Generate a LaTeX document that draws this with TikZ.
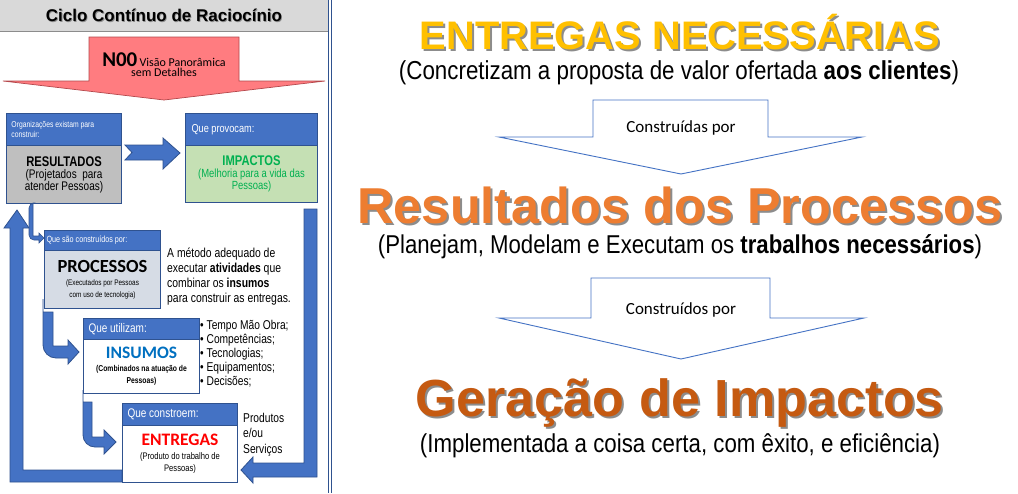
\documentclass[tikz,border=0pt]{standalone}
\usepackage{fontspec}
\setmainfont{Liberation Sans}
\newfontfamily\nar[FakeStretch=0.8]{Liberation Sans}
\newfontfamily\snar[FakeStretch=0.86]{Liberation Sans}
\newfontfamily\calf{Carlito}
\usetikzlibrary{calc}
\definecolor{hblue}{HTML}{4472C4}
\definecolor{bblue}{HTML}{2F528F}
\definecolor{tgray}{HTML}{D9D9D9}
\definecolor{rgray}{HTML}{BFBFBF}
\definecolor{igreen}{HTML}{C5E0B4}
\definecolor{tgreen}{HTML}{00B050}
\definecolor{pgray}{HTML}{D6DCE5}
\definecolor{iblue}{HTML}{0070C0}
\definecolor{ered}{HTML}{FF0000}
\definecolor{nred}{HTML}{FF7C80}
\definecolor{nredb}{HTML}{B4484C}
\definecolor{gold}{HTML}{FFC000}
\definecolor{orng}{HTML}{ED7D31}
\definecolor{dorng}{HTML}{C55A11}
\definecolor{shad}{HTML}{8C8C8C}
\newcommand\fs[2]{\fontsize{#1}{#2}\selectfont}
\tikzset{
  hdr/.style={draw=bblue, fill=hblue, line width=1pt, text=white, anchor=north west, inner xsep=5pt, inner ysep=0pt, align=flush left},
  bodybox/.style={draw=bblue, line width=1pt, anchor=north west, inner sep=0pt, align=center},
  blk/.style={draw=bblue, fill=hblue, line width=0.8pt},
  outarrow/.style={draw=hblue, line width=0.9pt, fill=white},
  plain/.style={inner sep=0pt},
}
\begin{document}
\begin{tikzpicture}[x=1pt,y=-1pt]
\useasboundingbox (0,0) rectangle (1018,493);
\fill[white] (0,0) rectangle (1018,493);
% title bar
\node[plain, fill=tgray, minimum width=328pt, minimum height=31pt, anchor=north west] (tbar) at (0,0) {};
\draw[shad, line width=0.8pt] (tbar.south west) -- (tbar.south east);
\node[plain, text=shad] at (164.8,16.8) {\fs{17}{18}\bfseries Ciclo Contínuo de Raciocínio};
\node[plain] (title) at (164,15.5) {\fs{17}{18}\bfseries Ciclo Contínuo de Raciocínio};
% double border line
\draw[bblue, line width=1pt] (328,0) -- (328,493);
\draw[bblue, line width=1pt] (331.5,0) -- (331.5,493);
% N00 arrow
\draw[fill=nred, draw=nredb, line width=0.7pt] (89,37) -- (239,37) -- (239,81) -- (325,81) -- (164,100) -- (3,81) -- (89,81) -- cycle;
\node[plain, align=center] (n00) at (164,65) {\calf{\fs{21}{21}\bfseries N00} {\fs{12}{14}Visão Panorâmica}\\[-2pt]\fs{12}{14}\calf sem Detalhes};
% loop arrows
\draw[blk] (122,482) -- (10,482) -- (10,228) -- (4,228) -- (17,210) -- (29,228) -- (23,228) -- (23,470) -- (122,470) -- cycle;
\draw[blk] (304,209) -- (317,209) -- (317,477) -- (253,477) -- (253,483) -- (241,470) -- (253,457) -- (253,463) -- (304,463) -- cycle;
% RESULTADOS
\node[hdr, minimum width=115pt, text width=105pt, minimum height=32pt, font={\nar\fs{8.5}{9.5}}] (resH) at (6,113) {Organizações existam para\\construir:\\[7pt]};
\node[bodybox, fill=rgray, minimum width=115pt, minimum height=58pt] (resB) at (6,145) {\nar\fs{14}{15.5}\bfseries RESULTADOS\\\nar\fs{12.5}{14}(Projetados~~para\\\nar\fs{12.5}{14}atender Pessoas)};
% IMPACTOS
\node[hdr, minimum width=132pt, text width=120pt, inner xsep=6pt, minimum height=32pt, font={\nar\fs{11.5}{12}}] (impH) at (185,113) {Que provocam:};
\node[bodybox, fill=igreen, text=tgreen, minimum width=132pt, minimum height=57pt] (impB) at (185,145) {\nar\fs{14}{15.5}\bfseries IMPACTOS\\\nar\fs{11.8}{14}(Melhoria para a vida das\\\nar\fs{11.8}{14}Pessoas)};
% arrow RESULTADOS -> IMPACTOS
\draw[blk] (125,145) -- (163,145) -- (163,138) -- (180,153) -- (163,169) -- (163,160) -- (125,160) -- (132,152.5) -- cycle;
% PROCESSOS
\node[hdr, minimum width=116pt, text width=112pt, inner xsep=2pt, minimum height=20pt, font={\nar\fs{9}{10}}] (proH) at (44,230) {Que são construídos por:};
\node[bodybox, fill=pgray, minimum width=116pt, minimum height=58pt] (proB) at (44,250) {\calf\fs{18.5}{19}\bfseries PROCESSOS\\[1pt]\nar\fs{8}{10}(Executados por Pessoas\\\nar\fs{8}{10}com uso de tecnologia)};
% small arrow RESULTADOS -> PROCESSOS
\draw[blk, line width=0.6pt] (33,203) -- (33,236) -- (39,236) -- (39,233) -- (44,238) -- (39,243) -- (39,240) [rounded corners=5pt] -- (29,240) -- (29,203) [sharp corners] -- cycle;
\node[plain, anchor=north west, align=left, font={\nar\fs{13}{14.8}}] (protxt) at (167,248) {A método adequado de\\executar \textbf{atividades} que\\combinar os \textbf{insumos}\\para construir as entregas.};
% INSUMOS
\node[hdr, minimum width=116pt, text width=106pt, minimum height=21pt, font={\nar\fs{12.5}{13}}] (insH) at (83,318) {Que utilizam:};
\node[bodybox, fill=white, minimum width=116pt, minimum height=54pt] (insB) at (83,339) {\calf\fs{17.5}{17}\bfseries\color{iblue}INSUMOS\\[1pt]\nar\fs{8.5}{10.5}\bfseries (Combinados na atuação de\\\nar\fs{8.5}{10.5}\bfseries Pessoas)};
\draw[blk] (43,312) -- (53,312) -- (53,346) -- (68,346) -- (68,340) -- (79,352) -- (68,364) -- (68,358) [rounded corners=13pt] -- (43,358) -- (43,312) [sharp corners] -- cycle;
\node[plain, anchor=north west, align=left, font={\nar\fs{12.8}{14.1}}] (bul) at (200,320) {• Tempo Mão Obra;\\• Competências;\\• Tecnologias;\\• Equipamentos;\\• Decisões;};
% ENTREGAS
\node[hdr, minimum width=115pt, text width=105pt, minimum height=22pt, font={\nar\fs{12.5}{13}}] (entH) at (122,403) {Que constroem:};
\node[bodybox, fill=white, minimum width=115pt, minimum height=57pt] (entB) at (122,425) {\calf\fs{17.5}{17}\bfseries\color{ered}ENTREGAS\\[2pt]\nar\fs{9.5}{13}(Produto do trabalho de\\\nar\fs{9.5}{13}Pessoas)};
\draw[blk] (83,402) -- (92,402) -- (92,437) -- (104,437) -- (104,430) -- (116,442) -- (104,454) -- (104,447) [rounded corners=12pt] -- (83,447) -- (83,402) [sharp corners] -- cycle;
\node[plain, anchor=north west, align=left, font={\nar\fs{12.8}{15.5}}] (prod) at (243,413) {Produtos\\e/ou\\Serviços};
% ---------------- right side
\node[plain, text=shad] at (682,34) {\resizebox{520pt}{!}{\bfseries ENTREGAS NECESSÁRIAS}};
\node[plain, text=gold] (t1) at (680,32) {\resizebox{520pt}{!}{\bfseries ENTREGAS NECESSÁRIAS}};
\node[plain] (s1) at (679,73) {\resizebox{560pt}{!}{\snar (Concretizam a proposta de valor ofertada \textbf{aos clientes})}};
\draw[outarrow] (593,137) -- (593,100) -- (768,100) -- (768,137) -- (862,137) -- (681,174) -- (499,137) -- cycle;
\node[plain] (a1) at (681,128) {\calf\fs{17}{18}Construídas por};
\node[plain, text=shad] at (682,207) {\resizebox{645pt}{!}{\bfseries Resultados dos Processos}};
\node[plain, text=orng] (t2) at (680,205) {\resizebox{645pt}{!}{\bfseries Resultados dos Processos}};
\node[plain] (s2) at (680,247) {\resizebox{604pt}{!}{\snar (Planejam, Modelam e Executam os \textbf{trabalhos necessários})}};
\draw[outarrow] (591,318) -- (591,278) -- (770,278) -- (770,318) -- (864,318) -- (681,359) -- (499,318) -- cycle;
\node[plain] (a2) at (681,310) {\calf\fs{17}{18}Construídos por};
\node[plain, text=shad] at (682,405) {\resizebox{528pt}{!}{\bfseries Geração de Impactos}};
\node[plain, text=dorng] (t3) at (680,403) {\resizebox{528pt}{!}{\bfseries Geração de Impactos}};
\node[plain] (s3) at (680,446) {\resizebox{520pt}{!}{\snar (Implementada a coisa certa, com êxito, e eficiência)}};
\end{tikzpicture}
\end{document}
